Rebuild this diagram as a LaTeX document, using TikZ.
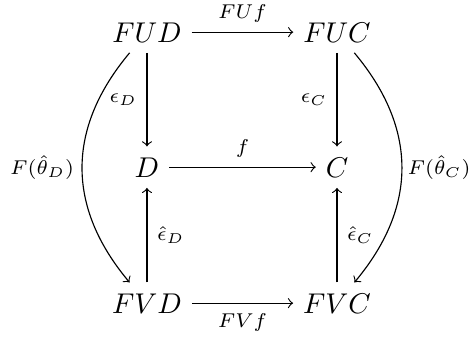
\documentclass[tikz,border=0pt]{standalone}
\usepackage{amsfonts,amssymb,amsmath}
\usepackage{tikz}

\begin{document}
\begin{tikzpicture}[>=to,obj/.style={anchor=base,text height=7.2pt,text depth=0.3pt,inner sep=3.3pt},lbl/.style={font=\scriptsize}]
\useasboundingbox(0,0)rectangle(5.77,4.146);
\node[obj](FUD)at(1.808,3.629){$FUD$};
\node[obj](FUC)at(4.146,3.629){$FUC$};
\node[obj](D)at(1.808,1.968){$D$};
\node[obj](C)at(4.146,1.968){$C$};
\node[obj](FVD)at(1.808,0.295){$FVD$};
\node[obj](FVC)at(4.146,0.295){$FVC$};
\draw[->](FUD)--(FUC)node[midway,above,lbl]{$FUf$};
\draw[->](D)--(C)node[midway,above,lbl]{$f$};
\draw[->](FVD)--(FVC)node[midway,below,lbl]{$FVf$};
\draw[->](FUD)--(D)node[midway,left,lbl]{$\epsilon_D$};
\draw[->](FUC)--(C)node[midway,left,lbl]{$\epsilon_C$};
\draw[->](FVD)--(D)node[midway,right,lbl]{$\hat{\epsilon}_D$};
\draw[->](FVC)--(C)node[midway,right,lbl]{$\hat{\epsilon}_C$};
\draw[->](FUD)to[bend right=40,looseness=1.1]node[midway,left,lbl,inner sep=2.6pt]{$F(\hat{\theta}_D)$}(FVD);
\draw[->](FUC)to[bend left=40,looseness=1.1]node[midway,right,lbl,inner sep=1.8pt]{$F(\hat{\theta}_C)$}(FVC);
\end{tikzpicture}
\end{document}
